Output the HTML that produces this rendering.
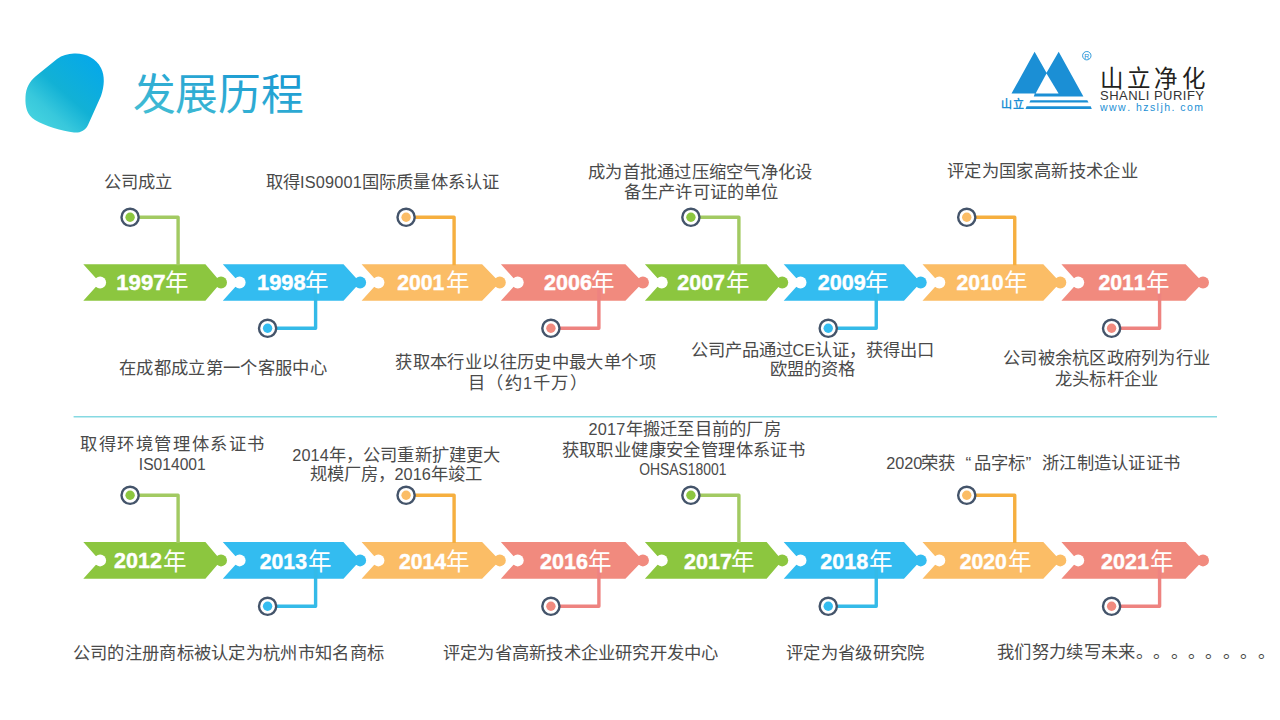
<!DOCTYPE html>
<html lang="zh-CN"><head><meta charset="utf-8"><style>
html,body{margin:0;padding:0;background:#fff;width:1280px;height:720px;overflow:hidden}
svg{position:absolute;left:0;top:0}
text{text-spacing-trim:space-all;font-kerning:none}
</style></head><body>
<svg width="1280" height="720" viewBox="0 0 1280 720">
<defs>
<linearGradient id="bg" x1="0.1" y1="0.95" x2="0.9" y2="0.05"><stop offset="0" stop-color="#48d6e0"/><stop offset="0.25" stop-color="#38c8dc"/><stop offset="0.5" stop-color="#12b1d5"/><stop offset="1" stop-color="#05a8ea"/></linearGradient>
<linearGradient id="tg" x1="0" y1="1" x2="1" y2="0"><stop offset="0" stop-color="#48c2d4"/><stop offset="1" stop-color="#1494d2"/></linearGradient>
</defs>
<path d="M74 53.6 C85 53 96 58 101 68 C105 76 104.5 86 101 96 L88 125 C85 131 80 133 74 132.5 C62 131 45 126 35 120 C27 115 25 107 25.5 97 C26 88 29 82 36 76 L57 59 C62 55.5 68 53.8 74 53.6 Z" fill="url(#bg)"/>
<text x="132.6" y="110.1" font-size="42.7" textLength="171.05" lengthAdjust="spacing" fill="url(#tg)" style="font-family:'Liberation Sans',sans-serif">发展历程</text>
<g fill="#1b8fd5">
<path d="M1011.5 93.6 L1034.6 51.8 L1046.5 72.7 L1058.7 51.8 L1083.4 96.5 L1033.8 96.5 L1034.8 93.6 Z"/>
<path d="M1030.5 100.2 L1087.3 100.2 L1088.5 102.4 L1029.4 102.4 Z"/>
<path d="M1026.6 106.3 L1090.7 106.3 L1091.8 109 L1025.5 109 Z"/>
</g>
<path d="M1046.5 73.5 L1035.6 93.6 L1058.6 93.6 Z" fill="#fff"/>
<circle cx="1086.8" cy="55.7" r="4.2" fill="none" stroke="#1b8fd5" stroke-width="0.9"/>
<text x="1086.8" y="58.6" text-anchor="middle" font-size="7" fill="#1b8fd5" style="font-family:'Liberation Sans',sans-serif">R</text>
<text x="1000.5" y="108.3" font-size="11" font-weight="bold" textLength="23" lengthAdjust="spacing" fill="#1b8fd5" style="font-family:'Liberation Sans',sans-serif">山立</text>
<text x="1099.5" y="86.5" font-size="23.5" textLength="105" lengthAdjust="spacing" fill="#231f20" style="font-family:'Liberation Sans',sans-serif">山立净化</text>
<text x="1100" y="100" font-size="13" textLength="104" lengthAdjust="spacing" fill="#333" style="font-family:'Liberation Sans',sans-serif">SHANLI PURIFY</text>
<text x="1100" y="111" font-size="10.5" textLength="103" lengthAdjust="spacing" fill="#1b8fd5" style="font-family:'Liberation Sans',sans-serif">www. hzsljh. com</text>

<line x1="73.6" y1="416.8" x2="1217" y2="416.8" stroke="#86d9e2" stroke-width="1.4"/>
<path d="M83.3 264.25 L205.4 264.25 L221 282.5 L205.4 300.75 L83.3 300.75 L99.8 282.5 Z" fill="#8cc63f"/>
<circle cx="221" cy="282.5" r="6" fill="#8cc63f"/>
<circle cx="100.1" cy="282.5" r="6" fill="#fff"/>
<path d="M222.8 264.25 L343.5 264.25 L360.1 282.5 L343.5 300.75 L222.8 300.75 L239.3 282.5 Z" fill="#33bcf0"/>
<circle cx="360.1" cy="282.5" r="6" fill="#33bcf0"/>
<circle cx="239.6" cy="282.5" r="6" fill="#fff"/>
<path d="M361.6 264.25 L482.1 264.25 L499.8 282.5 L482.1 300.75 L361.6 300.75 L378.1 282.5 Z" fill="#fbbd66"/>
<circle cx="499.8" cy="282.5" r="6" fill="#fbbd66"/>
<circle cx="378.4" cy="282.5" r="6" fill="#fff"/>
<path d="M500.9 264.25 L625.4 264.25 L642.9 282.5 L625.4 300.75 L500.9 300.75 L517.4 282.5 Z" fill="#f18a7e"/>
<circle cx="642.9" cy="282.5" r="6" fill="#f18a7e"/>
<circle cx="517.7" cy="282.5" r="6" fill="#fff"/>
<path d="M644.9 264.25 L766.6 264.25 L782.2 282.5 L766.6 300.75 L644.9 300.75 L661.4 282.5 Z" fill="#8cc63f"/>
<circle cx="782.2" cy="282.5" r="6" fill="#8cc63f"/>
<circle cx="661.7" cy="282.5" r="6" fill="#fff"/>
<path d="M783.7 264.25 L904 264.25 L920.7 282.5 L904 300.75 L783.7 300.75 L800.2 282.5 Z" fill="#33bcf0"/>
<circle cx="920.7" cy="282.5" r="6" fill="#33bcf0"/>
<circle cx="800.5" cy="282.5" r="6" fill="#fff"/>
<path d="M922.5 264.25 L1043.3 264.25 L1060.3 282.5 L1043.3 300.75 L922.5 300.75 L939 282.5 Z" fill="#fbbd66"/>
<circle cx="1060.3" cy="282.5" r="6" fill="#fbbd66"/>
<circle cx="939.3" cy="282.5" r="6" fill="#fff"/>
<path d="M1061.4 264.25 L1185.6 264.25 L1203 282.5 L1185.6 300.75 L1061.4 300.75 L1077.9 282.5 Z" fill="#f18a7e"/>
<circle cx="1203" cy="282.5" r="6" fill="#f18a7e"/>
<circle cx="1078.2" cy="282.5" r="6" fill="#fff"/>
<path d="M139.1 217.3 H178.1 V265.25" fill="none" stroke="#a2ca62" stroke-width="3.4" stroke-linejoin="round"/>
<circle cx="130.1" cy="217.3" r="8.6" fill="#fff" stroke="#44546a" stroke-width="2.4"/>
<circle cx="130.1" cy="217.3" r="4.7" fill="#8cc63f"/>
<path d="M415.1 217.3 H454.1 V265.25" fill="none" stroke="#f6af3f" stroke-width="3.4" stroke-linejoin="round"/>
<circle cx="406.1" cy="217.3" r="8.6" fill="#fff" stroke="#44546a" stroke-width="2.4"/>
<circle cx="406.1" cy="217.3" r="4.7" fill="#fbbd66"/>
<path d="M699.9 217.3 H738.9 V265.25" fill="none" stroke="#a2ca62" stroke-width="3.4" stroke-linejoin="round"/>
<circle cx="690.9" cy="217.3" r="8.6" fill="#fff" stroke="#44546a" stroke-width="2.4"/>
<circle cx="690.9" cy="217.3" r="4.7" fill="#8cc63f"/>
<path d="M975.75 217.3 H1014.75 V265.25" fill="none" stroke="#f6af3f" stroke-width="3.4" stroke-linejoin="round"/>
<circle cx="966.75" cy="217.3" r="8.6" fill="#fff" stroke="#44546a" stroke-width="2.4"/>
<circle cx="966.75" cy="217.3" r="4.7" fill="#fbbd66"/>
<path d="M276.6 328.3 H315.6 V285.5" fill="none" stroke="#34bae8" stroke-width="3.4" stroke-linejoin="round"/>
<circle cx="267.6" cy="328.3" r="8.6" fill="#fff" stroke="#44546a" stroke-width="2.4"/>
<circle cx="267.6" cy="328.3" r="4.7" fill="#33bcf0"/>
<path d="M559.9 328.3 H598.9 V285.5" fill="none" stroke="#ee8380" stroke-width="3.4" stroke-linejoin="round"/>
<circle cx="550.9" cy="328.3" r="8.6" fill="#fff" stroke="#44546a" stroke-width="2.4"/>
<circle cx="550.9" cy="328.3" r="4.7" fill="#f18a7e"/>
<path d="M837.25 328.3 H876.25 V285.5" fill="none" stroke="#34bae8" stroke-width="3.4" stroke-linejoin="round"/>
<circle cx="828.25" cy="328.3" r="8.6" fill="#fff" stroke="#44546a" stroke-width="2.4"/>
<circle cx="828.25" cy="328.3" r="4.7" fill="#33bcf0"/>
<path d="M1120.6 328.3 H1159.6 V285.5" fill="none" stroke="#ee8380" stroke-width="3.4" stroke-linejoin="round"/>
<circle cx="1111.6" cy="328.3" r="8.6" fill="#fff" stroke="#44546a" stroke-width="2.4"/>
<circle cx="1111.6" cy="328.3" r="4.7" fill="#f18a7e"/>
<text x="116.3" y="290.1" textLength="49.32" lengthAdjust="spacingAndGlyphs" font-weight="bold" font-size="22" fill="#fff" stroke="#fff" stroke-width="0.45" style="font-family:'Liberation Sans',sans-serif">1997</text>
<text x="165.46" y="290.5" font-size="23.5" fill="#fff" style="font-family:'Liberation Sans',sans-serif">年</text>
<text x="257.05" y="290.1" textLength="48.62" lengthAdjust="spacingAndGlyphs" font-weight="bold" font-size="22" fill="#fff" stroke="#fff" stroke-width="0.45" style="font-family:'Liberation Sans',sans-serif">1998</text>
<text x="305.24" y="290.5" font-size="23.5" fill="#fff" style="font-family:'Liberation Sans',sans-serif">年</text>
<text x="397.2" y="290.1" textLength="47.22" lengthAdjust="spacingAndGlyphs" font-weight="bold" font-size="22" fill="#fff" stroke="#fff" stroke-width="0.45" style="font-family:'Liberation Sans',sans-serif">2001</text>
<text x="445.92" y="290.5" font-size="23.5" fill="#fff" style="font-family:'Liberation Sans',sans-serif">年</text>
<text x="543.96" y="290.1" textLength="47.92" lengthAdjust="spacingAndGlyphs" font-weight="bold" font-size="22" fill="#fff" stroke="#fff" stroke-width="0.45" style="font-family:'Liberation Sans',sans-serif">2006</text>
<text x="591.45" y="290.5" font-size="23.5" fill="#fff" style="font-family:'Liberation Sans',sans-serif">年</text>
<text x="677.2" y="290.1" textLength="47.92" lengthAdjust="spacingAndGlyphs" font-weight="bold" font-size="22" fill="#fff" stroke="#fff" stroke-width="0.45" style="font-family:'Liberation Sans',sans-serif">2007</text>
<text x="725.92" y="290.5" font-size="23.5" fill="#fff" style="font-family:'Liberation Sans',sans-serif">年</text>
<text x="817.75" y="290.1" textLength="47.92" lengthAdjust="spacingAndGlyphs" font-weight="bold" font-size="22" fill="#fff" stroke="#fff" stroke-width="0.45" style="font-family:'Liberation Sans',sans-serif">2009</text>
<text x="865.24" y="290.5" font-size="23.5" fill="#fff" style="font-family:'Liberation Sans',sans-serif">年</text>
<text x="956.44" y="290.1" textLength="47.22" lengthAdjust="spacingAndGlyphs" font-weight="bold" font-size="22" fill="#fff" stroke="#fff" stroke-width="0.45" style="font-family:'Liberation Sans',sans-serif">2010</text>
<text x="1003.7" y="290.5" font-size="23.5" fill="#fff" style="font-family:'Liberation Sans',sans-serif">年</text>
<text x="1098.44" y="290.1" textLength="47.22" lengthAdjust="spacingAndGlyphs" font-weight="bold" font-size="22" fill="#fff" stroke="#fff" stroke-width="0.45" style="font-family:'Liberation Sans',sans-serif">2011</text>
<text x="1145.7" y="290.5" font-size="23.5" fill="#fff" style="font-family:'Liberation Sans',sans-serif">年</text>
<path d="M83.3 542 L205.4 542 L221 560.38 L205.4 578.75 L83.3 578.75 L99.8 560.38 Z" fill="#8cc63f"/>
<circle cx="221" cy="560.38" r="6" fill="#8cc63f"/>
<circle cx="100.1" cy="560.38" r="6" fill="#fff"/>
<path d="M222.8 542 L343.5 542 L360.1 560.38 L343.5 578.75 L222.8 578.75 L239.3 560.38 Z" fill="#33bcf0"/>
<circle cx="360.1" cy="560.38" r="6" fill="#33bcf0"/>
<circle cx="239.6" cy="560.38" r="6" fill="#fff"/>
<path d="M361.6 542 L482.1 542 L499.8 560.38 L482.1 578.75 L361.6 578.75 L378.1 560.38 Z" fill="#fbbd66"/>
<circle cx="499.8" cy="560.38" r="6" fill="#fbbd66"/>
<circle cx="378.4" cy="560.38" r="6" fill="#fff"/>
<path d="M500.9 542 L625.4 542 L642.9 560.38 L625.4 578.75 L500.9 578.75 L517.4 560.38 Z" fill="#f18a7e"/>
<circle cx="642.9" cy="560.38" r="6" fill="#f18a7e"/>
<circle cx="517.7" cy="560.38" r="6" fill="#fff"/>
<path d="M644.9 542 L766.6 542 L782.2 560.38 L766.6 578.75 L644.9 578.75 L661.4 560.38 Z" fill="#8cc63f"/>
<circle cx="782.2" cy="560.38" r="6" fill="#8cc63f"/>
<circle cx="661.7" cy="560.38" r="6" fill="#fff"/>
<path d="M783.7 542 L904 542 L920.7 560.38 L904 578.75 L783.7 578.75 L800.2 560.38 Z" fill="#33bcf0"/>
<circle cx="920.7" cy="560.38" r="6" fill="#33bcf0"/>
<circle cx="800.5" cy="560.38" r="6" fill="#fff"/>
<path d="M922.5 542 L1043.3 542 L1060.3 560.38 L1043.3 578.75 L922.5 578.75 L939 560.38 Z" fill="#fbbd66"/>
<circle cx="1060.3" cy="560.38" r="6" fill="#fbbd66"/>
<circle cx="939.3" cy="560.38" r="6" fill="#fff"/>
<path d="M1061.4 542 L1185.6 542 L1203 560.38 L1185.6 578.75 L1061.4 578.75 L1077.9 560.38 Z" fill="#f18a7e"/>
<circle cx="1203" cy="560.38" r="6" fill="#f18a7e"/>
<circle cx="1078.2" cy="560.38" r="6" fill="#fff"/>
<path d="M139.1 495.3 H178.1 V543" fill="none" stroke="#a2ca62" stroke-width="3.4" stroke-linejoin="round"/>
<circle cx="130.1" cy="495.3" r="8.6" fill="#fff" stroke="#44546a" stroke-width="2.4"/>
<circle cx="130.1" cy="495.3" r="4.7" fill="#8cc63f"/>
<path d="M415.1 495.3 H454.1 V543" fill="none" stroke="#f6af3f" stroke-width="3.4" stroke-linejoin="round"/>
<circle cx="406.1" cy="495.3" r="8.6" fill="#fff" stroke="#44546a" stroke-width="2.4"/>
<circle cx="406.1" cy="495.3" r="4.7" fill="#fbbd66"/>
<path d="M699.9 495.3 H738.9 V543" fill="none" stroke="#a2ca62" stroke-width="3.4" stroke-linejoin="round"/>
<circle cx="690.9" cy="495.3" r="8.6" fill="#fff" stroke="#44546a" stroke-width="2.4"/>
<circle cx="690.9" cy="495.3" r="4.7" fill="#8cc63f"/>
<path d="M975.75 495.3 H1014.75 V543" fill="none" stroke="#f6af3f" stroke-width="3.4" stroke-linejoin="round"/>
<circle cx="966.75" cy="495.3" r="8.6" fill="#fff" stroke="#44546a" stroke-width="2.4"/>
<circle cx="966.75" cy="495.3" r="4.7" fill="#fbbd66"/>
<path d="M276.6 606.3 H315.6 V563.38" fill="none" stroke="#34bae8" stroke-width="3.4" stroke-linejoin="round"/>
<circle cx="267.6" cy="606.3" r="8.6" fill="#fff" stroke="#44546a" stroke-width="2.4"/>
<circle cx="267.6" cy="606.3" r="4.7" fill="#33bcf0"/>
<path d="M559.9 606.3 H598.9 V563.38" fill="none" stroke="#ee8380" stroke-width="3.4" stroke-linejoin="round"/>
<circle cx="550.9" cy="606.3" r="8.6" fill="#fff" stroke="#44546a" stroke-width="2.4"/>
<circle cx="550.9" cy="606.3" r="4.7" fill="#f18a7e"/>
<path d="M837.25 606.3 H876.25 V563.38" fill="none" stroke="#34bae8" stroke-width="3.4" stroke-linejoin="round"/>
<circle cx="828.25" cy="606.3" r="8.6" fill="#fff" stroke="#44546a" stroke-width="2.4"/>
<circle cx="828.25" cy="606.3" r="4.7" fill="#33bcf0"/>
<path d="M1120.6 606.3 H1159.6 V563.38" fill="none" stroke="#ee8380" stroke-width="3.4" stroke-linejoin="round"/>
<circle cx="1111.6" cy="606.3" r="8.6" fill="#fff" stroke="#44546a" stroke-width="2.4"/>
<circle cx="1111.6" cy="606.3" r="4.7" fill="#f18a7e"/>
<text x="114.08" y="568.48" textLength="47.78" lengthAdjust="spacingAndGlyphs" font-weight="bold" font-size="22" fill="#fff" stroke="#fff" stroke-width="0.45" style="font-family:'Liberation Sans',sans-serif">2012</text>
<text x="163.18" y="569.7" font-size="23.5" fill="#fff" style="font-family:'Liberation Sans',sans-serif">年</text>
<text x="259.74" y="569.02" textLength="47.22" lengthAdjust="spacingAndGlyphs" font-weight="bold" font-size="22" fill="#fff" stroke="#fff" stroke-width="0.45" style="font-family:'Liberation Sans',sans-serif">2013</text>
<text x="308" y="569.7" font-size="23.5" fill="#fff" style="font-family:'Liberation Sans',sans-serif">年</text>
<text x="398.96" y="569.02" textLength="47.22" lengthAdjust="spacingAndGlyphs" font-weight="bold" font-size="22" fill="#fff" stroke="#fff" stroke-width="0.45" style="font-family:'Liberation Sans',sans-serif">2014</text>
<text x="445.92" y="569.7" font-size="23.5" fill="#fff" style="font-family:'Liberation Sans',sans-serif">年</text>
<text x="539.98" y="569.02" textLength="47.92" lengthAdjust="spacingAndGlyphs" font-weight="bold" font-size="22" fill="#fff" stroke="#fff" stroke-width="0.45" style="font-family:'Liberation Sans',sans-serif">2016</text>
<text x="588.44" y="569.7" font-size="23.5" fill="#fff" style="font-family:'Liberation Sans',sans-serif">年</text>
<text x="683.96" y="569.02" textLength="47.92" lengthAdjust="spacingAndGlyphs" font-weight="bold" font-size="22" fill="#fff" stroke="#fff" stroke-width="0.45" style="font-family:'Liberation Sans',sans-serif">2017</text>
<text x="731.45" y="569.7" font-size="23.5" fill="#fff" style="font-family:'Liberation Sans',sans-serif">年</text>
<text x="820.25" y="569.02" textLength="47.92" lengthAdjust="spacingAndGlyphs" font-weight="bold" font-size="22" fill="#fff" stroke="#fff" stroke-width="0.45" style="font-family:'Liberation Sans',sans-serif">2018</text>
<text x="868.74" y="569.7" font-size="23.5" fill="#fff" style="font-family:'Liberation Sans',sans-serif">年</text>
<text x="959.68" y="569.02" textLength="47.22" lengthAdjust="spacingAndGlyphs" font-weight="bold" font-size="22" fill="#fff" stroke="#fff" stroke-width="0.45" style="font-family:'Liberation Sans',sans-serif">2020</text>
<text x="1007.7" y="569.7" font-size="23.5" fill="#fff" style="font-family:'Liberation Sans',sans-serif">年</text>
<text x="1100.98" y="569.02" textLength="47.92" lengthAdjust="spacingAndGlyphs" font-weight="bold" font-size="22" fill="#fff" stroke="#fff" stroke-width="0.45" style="font-family:'Liberation Sans',sans-serif">2021</text>
<text x="1149.65" y="570.05" font-size="23.5" fill="#fff" style="font-family:'Liberation Sans',sans-serif">年</text>
<g fill="#4a4a4a" font-size="17.3" style="font-family:'Liberation Sans',sans-serif">
<text x="103.52" y="188.28" textLength="68.78" lengthAdjust="spacing">公司成立</text>
<text x="265.76" y="188.38" textLength="233.3" lengthAdjust="spacing">取得<tspan font-size="16.3">IS09001</tspan>国际质量体系认证</text>
<text x="588" y="177.58" textLength="224.3" lengthAdjust="spacing">成为首批通过压缩空气净化设</text>
<text x="623.76" y="197.96" textLength="154.56" lengthAdjust="spacing">备生产许可证的单位</text>
<text x="947" y="177.36" textLength="190.74" lengthAdjust="spacing">评定为国家高新技术企业</text>
<text x="119" y="373.8" textLength="207.58" lengthAdjust="spacing">在成都成立第一个客服中心</text>
<text x="395.26" y="367.89" textLength="260.3" lengthAdjust="spacing">获取本行业以往历史中最大单个项</text>
<text x="468.16" y="388.98" textLength="118.54" lengthAdjust="spacing">目（约<tspan font-size="16.3">1</tspan>千万）</text>
<text x="690.5" y="355.87" textLength="243.68" lengthAdjust="spacing">公司产品通过<tspan font-size="16.3">CE</tspan>认证，获得出口</text>
<text x="769.98" y="375.2" textLength="84.6" lengthAdjust="spacing">欧盟的资格</text>
<text x="1003" y="364.1" textLength="207" lengthAdjust="spacing">公司被余杭区政府列为行业</text>
<text x="1055" y="384.8" textLength="103" lengthAdjust="spacing">龙头标杆企业</text>
<text x="79.98" y="449.58" textLength="184.28" lengthAdjust="spacing">取得环境管理体系证书</text>
<text x="138.8" y="469.94" textLength="66.98" lengthAdjust="spacingAndGlyphs"><tspan font-size="16.3">IS014001</tspan></text>
<text x="292.2" y="460.62" textLength="207.82" lengthAdjust="spacing"><tspan font-size="16.3">2014</tspan>年，公司重新扩建更大</text>
<text x="309.52" y="480.4" textLength="172.3" lengthAdjust="spacing">规模厂房，<tspan font-size="16.3">2016</tspan>年竣工</text>
<text x="588.46" y="435.38" textLength="192.04" lengthAdjust="spacing"><tspan font-size="16.3">2017</tspan>年搬迁至目前的厂房</text>
<text x="561.5" y="456.12" textLength="243.24" lengthAdjust="spacing">获取职业健康安全管理体系证书</text>
<text x="639.2" y="475.18" textLength="87.32" lengthAdjust="spacingAndGlyphs"><tspan font-size="16.3">OHSAS18001</tspan></text>
<text x="72.74" y="658.78" textLength="311.06" lengthAdjust="spacing">公司的注册商标被认定为杭州市知名商标</text>
<text x="443" y="658.8" textLength="275.3" lengthAdjust="spacing">评定为省高新技术企业研究开发中心</text>
<text x="786" y="658.8" textLength="138.3" lengthAdjust="spacing">评定为省级研究院</text>
<text x="996.74" y="657.76" textLength="277.8" lengthAdjust="spacing">我们努力续写未来。。。。。。。。</text>
<text y="468.93"><tspan x="886.2" font-size="16.3">2020</tspan><tspan x="921.4">荣获</tspan><tspan x="965.5" font-size="17.3">“</tspan><tspan x="974">品字标</tspan><tspan x="1025.6" font-size="17.3">”</tspan><tspan x="1042" style="letter-spacing:0.3px">浙江制造认证证书</tspan></text>
</g>
</svg>
</body></html>
